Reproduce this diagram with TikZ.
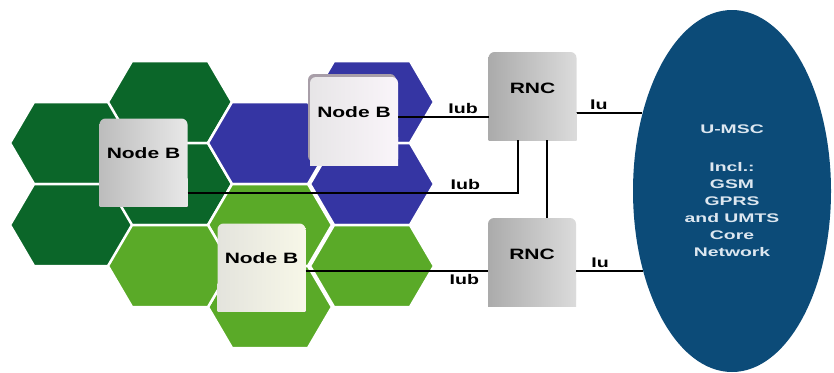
\documentclass[tikz,border=0pt]{standalone}
\usepackage{fontspec}
\setmainfont{Liberation Sans}
\newfontfamily\widesans{Liberation Sans}[FakeStretch=1.4]
\newfontfamily\widersans{Liberation Sans}[FakeStretch=1.55]
\usetikzlibrary{positioning,shapes.geometric}

\definecolor{celldark}{HTML}{0B6629}
\definecolor{cellblue}{HTML}{3535A3}
\definecolor{celllight}{HTML}{5AAA28}
\definecolor{coreblue}{HTML}{0C4B78}
\definecolor{coretext}{HTML}{DDE7F0}

% one radio cell, centre (#1,#2)
\newcommand\hexcell[3]{%
  \fill[#3, draw=white, line width=2.5pt]
    (#1-62,#2) -- (#1-38,#2-41) -- (#1+38,#2-41) -- (#1+62,#2)
    -- (#1+38,#2+41) -- (#1-38,#2+41) -- cycle;}

\begin{document}
\begin{tikzpicture}[x=1pt,y=-1pt,
  wire/.style={line width=1.8pt},
  lbl/.style={font=\widesans\bfseries\fontsize{14}{16}\selectfont, inner sep=2.5pt},
  unit/.style={rectangle, rounded corners=6pt, outer sep=0pt, inner sep=0pt,
    minimum width=88pt, minimum height=88pt, text height=11pt, text depth=19pt,
    font=\widesans\bfseries\fontsize{15}{18}\selectfont},
  ctrl/.style={unit, text depth=16pt},
  nbgrey/.style={left color=black!26!white, right color=black!9!white},
  nblilac/.style={left color=violet!12!black!10!white, right color=violet!4!white},
  nbcream/.style={left color=olive!22!black!12!white, right color=olive!6!white},
  rncgrey/.style={left color=black!33!white, right color=black!14!white}]

\useasboundingbox (0,0) rectangle (834,372);

\hexcell{72}{143}{celldark}
\hexcell{72}{225}{celldark}
\hexcell{170}{102}{celldark}
\hexcell{170}{184}{celldark}

\hexcell{270}{143}{cellblue}
\hexcell{372}{102}{cellblue}
\hexcell{372}{184}{cellblue}

\hexcell{270}{225}{celllight}
\hexcell{270}{307}{celllight}
\hexcell{170}{266}{celllight}
\hexcell{372}{266}{celllight}

\node[unit, nbgrey] (nbleft) at (143.5,162.5) {Node B};
\node[unit, nblilac, preaction={fill=violet!20!black!38!white,
  transform canvas={shift={(-2pt,3pt)}}}] (nbtop) at (354,121) {Node B};
\node[unit, nbcream] (nbbot) at (261.5,267.5) {Node B};
\node[ctrl, rncgrey] (rnc1) at (532.5,96) {RNC};
\node[ctrl, rncgrey] (rnc2) at (532,262) {RNC};

% square off the lower corners
\fill[nbgrey] (nbleft.south west) rectangle (nbleft.-20);
\fill[nblilac] (nbtop.south west) rectangle (nbtop.-20);
\fill[nbcream] (nbbot.south west) rectangle (nbbot.-20);
\fill[rncgrey] (rnc1.south west) rectangle (rnc1.-20);
\fill[rncgrey] (rnc2.south west) rectangle (rnc2.-20);

\node[ellipse, fill=coreblue, inner sep=0pt, minimum width=198pt, minimum height=362pt,
  text=coretext, align=center, font=\widersans\bfseries\fontsize{12.5}{17}\selectfont]
  (msc) at (732,191) {U-MSC\\[21pt]Incl.:\\GSM\\GPRS\\and UMTS\\Core\\Network};

\draw[wire] (nbtop.5) -- node[lbl, pos=0.72, above] {Iub} (nbtop.5 -| rnc1.west);
\draw[wire] (nbleft.-35) -| node[lbl, pos=0.42, above] {Iub} (rnc1.-108);
\draw[wire] (nbbot.east |- rnc2.192) -- node[lbl, pos=0.87, below] {Iub} (rnc2.192);
\draw[wire] (rnc1.-72) -- (rnc1.-72 |- rnc2.north);
\draw[wire] (msc.139 -| rnc1.east) -- node[lbl, pos=0.34, above] {Iu} (msc.139);
\draw[wire] (msc.-138 -| rnc2.east) -- node[lbl, pos=0.36, above] {Iu} (msc.-138);

\end{tikzpicture}
\end{document}
